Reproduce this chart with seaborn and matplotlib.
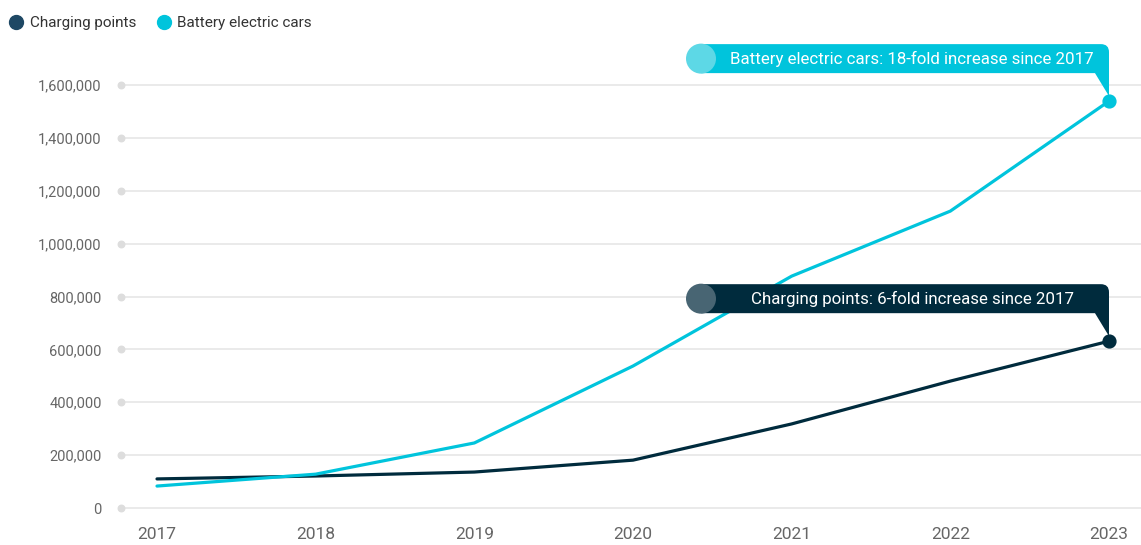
import matplotlib
matplotlib.use('Agg')
import seaborn as sns
import pandas as pd
import numpy as np
import matplotlib.pyplot as plt
from matplotlib.path import Path
from matplotlib.patches import PathPatch, Circle
from matplotlib.lines import Line2D
from matplotlib.transforms import IdentityTransform

years = [2017, 2018, 2019, 2020, 2021, 2022, 2023]
charging_points = [110000, 121000, 136000, 181000, 318000, 480000, 631000]
battery_cars = [83000, 128000, 246000, 537000, 877000, 1123000, 1539000]
series_names = ['Charging points', 'Battery electric cars']
y_ticks = [0, 200000, 400000, 600000, 800000, 1000000, 1200000, 1400000, 1600000]
notes = ['Charging points: 6-fold increase since 2017',
         'Battery electric cars: 18-fold increase since 2017']

line_colors = {'Charging points': '#002b3d', 'Battery electric cars': '#00c4dc'}
legend_colors = ['#1e4864', '#00c4dc']
bubble_light = {'Charging points': '#486573', 'Battery electric cars': '#5dd8e6'}

sns.set_style('white')
plt.rcParams['font.family'] = ['Roboto', 'DejaVu Sans']

df = pd.concat([
    pd.DataFrame({'year': years, 'value': charging_points, 'series': series_names[0]}),
    pd.DataFrame({'year': years, 'value': battery_cars, 'series': series_names[1]}),
])

fig = plt.figure(figsize=(11.41, 5.45), dpi=100)
ax = fig.add_axes([121 / 1141, 37 / 545, 1 - 121 / 1141, (508 - 85) / 545])

sns.lineplot(data=df, x='year', y='value', hue='series', palette=line_colors,
             linewidth=2.3, ax=ax, legend=False, clip_on=False)

x0 = 2017 - 36 / 158.67
x1 = 2023 + 32 / 158.67
ax.set_xlim(x0, x1)
ax.set_ylim(0, 1600000)
ax.set_yticks(y_ticks)
ax.set_yticklabels(['{:,}'.format(v) for v in y_ticks])
ax.set_xticks(years)
ax.set_xticklabels([str(y) for y in years])
ax.tick_params(axis='y', length=0, pad=14, labelsize=10.5, labelcolor='#666666')
ax.tick_params(axis='x', length=0, pad=14, labelsize=12.5, labelcolor='#666666')
ax.set_xlabel('')
ax.set_ylabel('')
for s in ax.spines.values():
    s.set_visible(False)
ax.grid(axis='y', color='#e6e6e6', linewidth=1.2)
for gl in ax.get_ygridlines():
    gl.set_clip_on(False)
ax.set_axisbelow(True)
ax.scatter([x0] * len(y_ticks), y_ticks, s=22, color='#dddddd', clip_on=False, zorder=1)

# end markers
for name, vals in zip(series_names, [charging_points, battery_cars]):
    ax.scatter([years[-1]], [vals[-1]], s=85, color=line_colors[name], zorder=5, clip_on=False)

# callout bubbles (drawn in pixel space, anchored to the last point)
fig.canvas.draw()
for name, vals, note in zip(series_names, [charging_points, battery_cars], notes):
    px, py = ax.transData.transform((years[-1], vals[-1]))
    R = px
    T = py + 57
    B = py + 28
    L = px - 408
    tip = py + 5
    r = 8
    verts = [(L, B), (L, T), (R - r, T), (R, T), (R, T - r), (R, tip), (R - 14, B), (L, B)]
    codes = [Path.MOVETO, Path.LINETO, Path.LINETO, Path.CURVE3, Path.CURVE3,
             Path.LINETO, Path.LINETO, Path.CLOSEPOLY]
    fig.patches.append(PathPatch(Path(verts, codes), facecolor=line_colors[name],
                                 edgecolor='none', transform=IdentityTransform()))
    fig.patches.append(Circle((L, (T + B) / 2), 15, facecolor=bubble_light[name],
                              edgecolor='none', transform=IdentityTransform()))
    fig.text(px - 197, (T + B) / 2, note, transform=IdentityTransform(), ha='center',
             va='center', color='white', fontsize=12.2)

handles = [Line2D([], [], marker='o', linestyle='', markersize=10, color=c) for c in legend_colors]
fig.legend(handles, series_names, loc='upper left', bbox_to_anchor=(-0.006, 0.995), ncol=2,
           frameon=False, fontsize=11, handletextpad=0.3, columnspacing=1.2,
           labelcolor='#333333', handlelength=1.2)

fig.savefig('out.png', dpi=100)
